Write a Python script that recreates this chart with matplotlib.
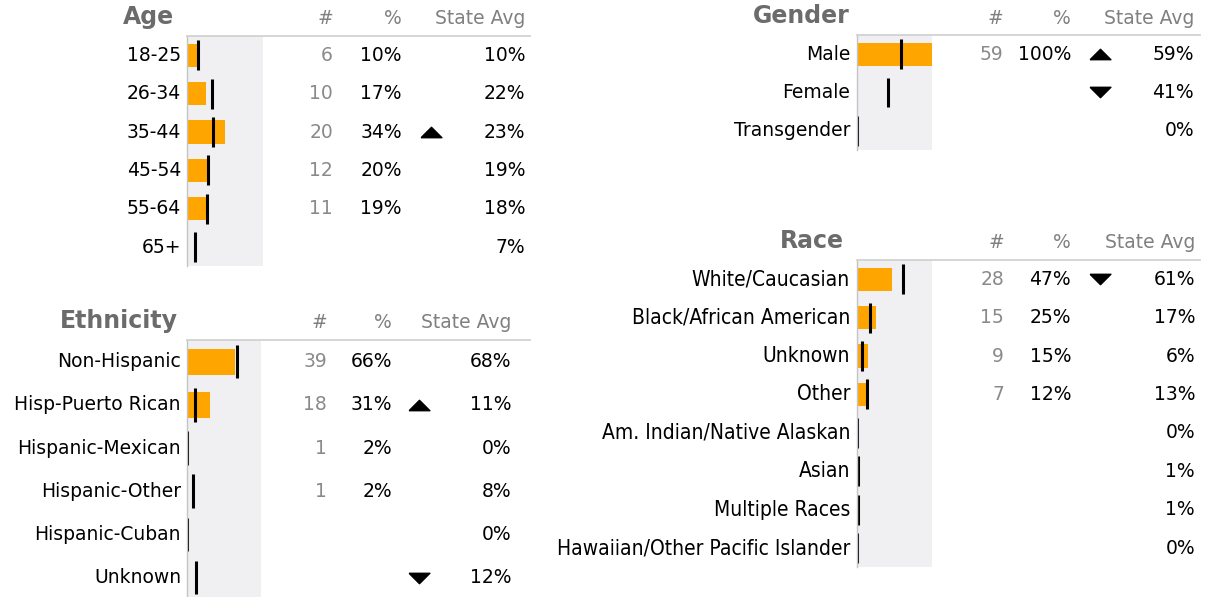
import matplotlib
matplotlib.use('Agg')
import matplotlib.pyplot as plt
from matplotlib import transforms, font_manager
from matplotlib.lines import Line2D


W, H = 1217, 597

# ---- data ----
age_labels = ['18-25', '26-34', '35-44', '45-54', '55-64', '65+']
age_counts = [6, 10, 20, 12, 11, None]
age_pct = [10, 17, 34, 20, 19, None]
age_state = [10, 22, 23, 19, 18, 7]
age_flags = ['', '', 'up', '', '', '']

eth_labels = ['Non-Hispanic', 'Hisp-Puerto Rican', 'Hispanic-Mexican',
              'Hispanic-Other', 'Hispanic-Cuban', 'Unknown']
eth_counts = [39, 18, 1, 1, None, None]
eth_pct = [66, 31, 2, 2, None, None]
eth_state = [68, 11, 0, 8, 0, 12]
eth_flags = ['', 'up', '', '', '', 'down']

gender_labels = ['Male', 'Female', 'Transgender']
gender_counts = [59, None, None]
gender_pct = [100, None, None]
gender_state = [59, 41, 0]
gender_flags = ['up', 'down', '']

race_labels = ['White/Caucasian', 'Black/African American', 'Unknown', 'Other',
               'Am. Indian/Native Alaskan', 'Asian', 'Multiple Races',
               'Hawaiian/Other Pacific Islander']
race_counts = [28, 15, 9, 7, None, None, None, None]
race_pct = [47, 25, 15, 12, None, None, None, None]
race_state = [61, 17, 6, 13, 0, 1, 1, 0]
race_flags = ['down', '', '', '', '', '', '', '']

# ---- styling ----
ORANGE = '#ffa500'
BG = '#f0f0f2'
TITLE_C = '#6b6b6b'
HEAD_C = '#808080'
COUNT_C = '#8a8a8a'
FS = 13.5


def narrow_font():
    # pick a condensed face for the long race labels if one is installed
    for f in font_manager.fontManager.ttflist:
        fn = f.fname.lower()
        if 'dejavusanscondensed.ttf' in fn:
            return font_manager.FontProperties(fname=f.fname, size=FS + 1.5)
    for f in font_manager.fontManager.ttflist:
        fn = f.fname.lower()
        if 'liberationsansnarrow-regular' in fn:
            return font_manager.FontProperties(fname=f.fname, size=FS + 2)
    return font_manager.FontProperties(family='DejaVu Sans', size=FS - 1.5)


def fx(x):
    return x / W


def fy(y):
    return 1 - y / H


up_marker = [(-1, -0.5), (1, -0.5), (0, 0.5), (-1, -0.5)]
down_marker = [(-1, 0.5), (1, 0.5), (0, -0.5), (-1, 0.5)]

panels = [
    dict(title='Age', labels=age_labels, counts=age_counts, pct=age_pct,
         state=age_state, flags=age_flags, xmax=68,
         box=(187, 36, 263, 38.4), label_x=181, title_x=174,
         cols=(333, 402, 431, 525), line_end=530),
    dict(title='Ethnicity', labels=eth_labels, counts=eth_counts, pct=eth_pct,
         state=eth_state, flags=eth_flags, xmax=101,
         box=(187, 340, 261, 43.2), label_x=181, title_x=178,
         cols=(327, 392, 419, 511), line_end=530),
    dict(title='Gender', labels=gender_labels, counts=gender_counts,
         pct=gender_pct, state=gender_state, flags=gender_flags, xmax=100,
         box=(857, 35, 932, 38.3), label_x=850, title_x=850,
         cols=(1003, 1071, 1100, 1194), line_end=1200),
    dict(title='Race', labels=race_labels, counts=race_counts, pct=race_pct,
         state=race_state, flags=race_flags, xmax=100,
         box=(857, 260, 932, 38.4), label_x=850, title_x=844,
         cols=(1004, 1071, 1100, 1195), line_end=1200, narrow=True),
]

fig = plt.figure(figsize=(W / 100, H / 100), dpi=100)
fig.patch.set_facecolor('white')

for p in panels:
    n = len(p['labels'])
    x0, top, x1, step = p['box']
    bottom = top + n * step
    ax = fig.add_axes([fx(x0), fy(bottom), fx(x1) - fx(x0), (bottom - top) / H])
    ax.set_facecolor(BG)
    ax.set_xlim(0, p['xmax'])
    ax.set_ylim(n - 0.5, -0.5)
    for s in ['top', 'right', 'bottom']:
        ax.spines[s].set_visible(False)
    ax.spines['left'].set_color('#c4c4c4')
    ax.spines['left'].set_linewidth(1)
    ax.set_xticks([])
    ax.set_yticks([])

    rows = list(range(n))
    bar_vals = [v if v is not None else 0 for v in p['pct']]
    ax.barh(rows, bar_vals, height=0.6, color=ORANGE, edgecolor='none')
    ax.vlines(p['state'], [r - 0.39 for r in rows], [r + 0.39 for r in rows],
              color='black', linewidth=2.2)

    tr = transforms.blended_transform_factory(fig.transFigure, ax.transData)
    cx, px, tx, sx = p['cols']
    lab_font = narrow_font() if p.get('narrow') else None
    for i in rows:
        if lab_font is not None:
            ax.text(fx(p['label_x']), i, p['labels'][i], transform=tr,
                    ha='right', va='center', fontproperties=lab_font,
                    color='black', clip_on=False)
        else:
            ax.text(fx(p['label_x']), i, p['labels'][i], transform=tr,
                    ha='right', va='center', fontsize=FS, color='black',
                    clip_on=False)
        if p['counts'][i] is not None:
            ax.text(fx(cx), i, str(p['counts'][i]), transform=tr, ha='right',
                    va='center', fontsize=FS, color=COUNT_C, clip_on=False)
        if p['pct'][i] is not None:
            ax.text(fx(px), i, f"{p['pct'][i]}%", transform=tr, ha='right',
                    va='center', fontsize=FS, color='black', clip_on=False)
        ax.text(fx(sx), i, f"{p['state'][i]}%", transform=tr, ha='right',
                va='center', fontsize=FS, color='black', clip_on=False)
        if p['flags'][i]:
            m = up_marker if p['flags'][i] == 'up' else down_marker
            ax.plot([fx(tx)], [i], transform=tr, marker=m, markersize=15,
                    color='black', linestyle='none', clip_on=False)

    # header row
    hy = fy(top - 17)
    fig.text(fx(p['title_x']), fy(top - 19), p['title'], ha='right',
             va='center', fontsize=17, fontweight='bold', color=TITLE_C)
    fig.text(fx(cx), hy, '#', ha='right', va='center', fontsize=FS,
             color=HEAD_C)
    fig.text(fx(px), hy, '%', ha='right', va='center', fontsize=FS,
             color=HEAD_C)
    fig.text(fx(sx), hy, 'State Avg', ha='right', va='center', fontsize=FS,
             color=HEAD_C)
    fig.add_artist(Line2D([fx(x0), fx(p['line_end'])], [fy(top), fy(top)],
                          color='#d2d2d2', linewidth=1.3))

fig.savefig('out.png', dpi=100, facecolor='white')
